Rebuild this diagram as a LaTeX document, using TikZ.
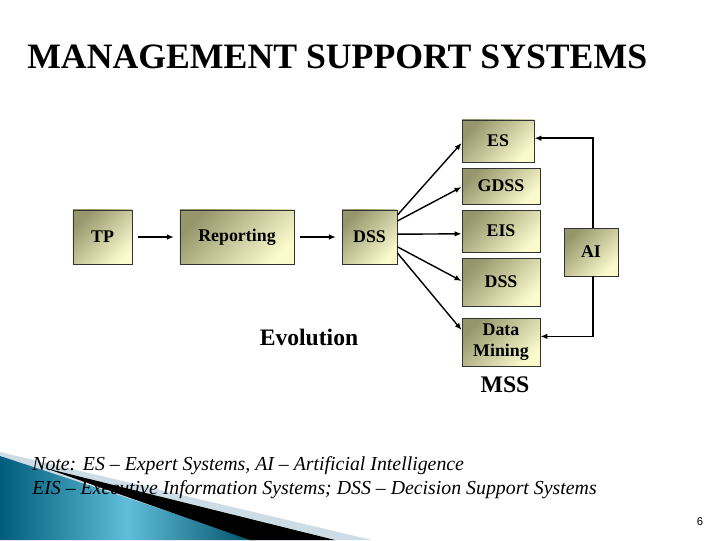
\documentclass[tikz,border=0pt]{standalone}
\usepackage{fontspec}
\setmainfont{Liberation Serif}
\newfontfamily\pagefont{Liberation Sans}
\usetikzlibrary{arrows.meta}

\definecolor{boxdark}{RGB}{150,150,108}
\definecolor{boxlight}{RGB}{250,250,205}
\definecolor{tealdark}{RGB}{0,92,122}
\definecolor{teallight}{RGB}{96,190,218}
\definecolor{wedgegray}{RGB}{206,221,229}

\tikzset{
mssbox/.style={draw=black!80, line width=0.6pt, top color=boxdark, bottom color=boxlight,
shading angle=45, inner sep=0pt, align=center, font={\fontsize{12.7}{15}\selectfont\bfseries}},
flow/.style={-{Latex[length=5pt, width=4pt]}, line width=1pt}
}

\begin{document}
\begin{tikzpicture}[x=0.025cm, y=-0.025cm]

\useasboundingbox (0,0) rectangle (720,540);

% corner decoration
\fill[wedgegray] (0,452) -- (372,540) -- (0,540) -- cycle;
\shade[left color=tealdark, right color=tealdark!85!black, middle color=teallight]
 (0,456) -- (255,540) -- (0,540) -- cycle;
\fill[black] (45,468) -- (335,540) -- (250,540) -- cycle;

\node [anchor=west, inner sep=0pt, font={\fontsize{25.4}{30}\selectfont\bfseries}] (title)
 at (27,57) {MANAGEMENT SUPPORT SYSTEMS};

% evolution chain
\node [mssbox, minimum width=1.475cm, minimum height=1.35cm] (tp) at (102.5,237) {TP};
\node [mssbox, minimum width=2.85cm, minimum height=1.35cm] (rep) at (237,237) {Reporting};
\node [mssbox, minimum width=1.375cm, minimum height=1.35cm] (dss) at (369.5,237) {DSS};

% management support systems
\node [mssbox, minimum width=1.8cm, minimum height=1.05cm] (es) at (498,141) {ES};
\node [mssbox, minimum width=1.95cm, minimum height=0.9cm] (gdss) at (501,186) {GDSS};
\node [mssbox, minimum width=1.95cm, minimum height=1.05cm] (eis) at (501,231) {EIS};
\node [mssbox, minimum width=1.95cm, minimum height=1.2cm] (dssb) at (501,282) {DSS};
\node [mssbox, minimum width=1.95cm, minimum height=1.2cm] (dm) at (501,342) {Data\\Mining};
\node [mssbox, minimum width=1.35cm, minimum height=1.2cm] (ai) at (591,252) {AI};

\node [font={\fontsize{16.8}{20}\selectfont\bfseries}] (evol) at (309,337) {Evolution};
\node [font={\fontsize{16.9}{20}\selectfont\bfseries}] (mss) at (505,385) {MSS};

\node [anchor=west, align=left, inner sep=0pt, font={\itshape\fontsize{14.1}{17}\selectfont}] (note)
 at (32,478) {Note: ES -- Expert Systems, AI -- Artificial Intelligence\\
EIS -- Executive Information Systems; DSS -- Decision Support Systems};

\node [font={\pagefont\fontsize{8}{9}\selectfont}] (pgnum) at (700,522) {6};

\draw[flow, shorten <=4pt, shorten >=4pt] (tp) -- (rep);
\draw[flow, shorten <=4pt, shorten >=4pt] (rep) -- (dss);

\draw[flow] ([yshift=15.6pt]dss.east) -- ([yshift=-1.4pt]es.west);
\draw[flow] ([yshift=11.4pt]dss.east) -- ([yshift=-0.7pt]gdss.west);
\draw[flow] ([yshift=2pt]dss.east) -- ([yshift=-2pt]eis.west);
\draw[flow] ([yshift=-7pt]dss.east) -- ([yshift=0.7pt]dssb.west);
\draw[flow] ([yshift=-11.4pt]dss.east) -- ([yshift=8.5pt]dm.west);

\draw[flow] ([xshift=1.5pt]ai.north) |- ([yshift=2pt]es.east);
\draw[flow] ([xshift=1.5pt]ai.south) |- ([yshift=4pt]dm.east);

\end{tikzpicture}
\end{document}
